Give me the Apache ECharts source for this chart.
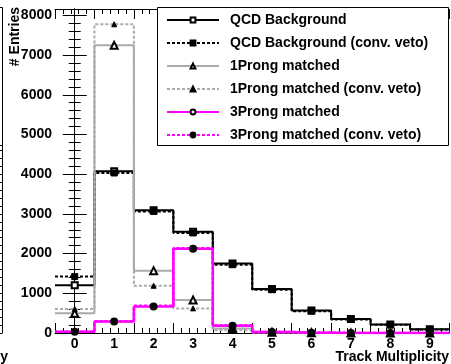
<!DOCTYPE html>
<html>
<head>
<meta charset="utf-8">
<script src="https://cdn.jsdelivr.net/npm/echarts@6/dist/echarts.min.js"></script>
<style>html,body{margin:0;padding:0;background:#fff;}#c{width:451px;height:364px;}</style>
</head>
<body>
<div id="c"></div>
<script>
const xLabels = ['0','1','2','3','4','5','6','7','8','9'];
const qcd      = [1200, 4075, 3090, 2550, 1750, 1110, 565, 355, 215, 95];
const qcdVeto  = [1420, 4030, 3060, 2520, 1720, 1090, 550, 340, 205, 90];
const p1       = [495, 7245, 1570, 830, 115, 20, 5, 2, 1, 0];
const p1Veto   = [605, 7775, 1190, 620, 70, 12, 3, 1, 0, 0];
const p3       = [30, 290, 670, 2125, 185, 25, 8, 3, 1, 0];
const p3Veto   = [30, 295, 685, 2135, 195, 28, 8, 3, 1, 0];
const seriesNames = ['QCD Background','QCD Background (conv. veto)','1Prong matched','1Prong matched (conv. veto)','3Prong matched','3Prong matched (conv. veto)'];
const yMax = 8160;

function stepData(vals){
  const d = [];
  vals.forEach((v,i)=>{
    d.push({value:[i-0.5, v], symbol:'none'});
    d.push({value:[i, v]});
    d.push({value:[i+0.5, v], symbol:'none'});
  });
  return d;
}
const FONT = 'Liberation Sans, Arial, Helvetica, sans-serif';
function mk(name, vals, color, dashed, symbol, size, width){
  return {
    name: name, type:'line', xAxisIndex:0, yAxisIndex:0,
    data: stepData(vals), symbol: symbol, symbolSize: size, showSymbol:true,
    lineStyle:{color: color, width: width, type: dashed ? [3,2] : 'solid'},
    itemStyle:{color:'#000', borderColor:'#000', borderWidth:1},
    emphasis:{disabled:true}, animation:false
  };
}
const chart = echarts.init(document.getElementById('c'), null, {renderer:'canvas'});
const tickX = {show:true, inside:true, length:10, lineStyle:{color:'#000', width:1}};
const minorX = {show:true, splitNumber:5, length:5, lineStyle:{color:'#000', width:1}};
const tickY = {show:true, inside:true, length:12, lineStyle:{color:'#000', width:1}};
const minorY = {show:true, splitNumber:5, length:6, lineStyle:{color:'#000', width:1}};
const lineAx = {show:true, lineStyle:{color:'#000', width:1}};
chart.setOption({
  animation:false,
  backgroundColor:'#fff',
  grid:[
    {left:55, right:1.5, top:9, bottom:31, containLabel:false},
    {left:-393, width:395, top:9, bottom:31, containLabel:false}
  ],
  xAxis:[
    {type:'value', gridIndex:0, min:-0.5, max:9.5, interval:1, position:'bottom',
     axisLine:lineAx, axisTick:tickX, minorTick:minorX, axisLabel:{show:false}, splitLine:{show:false}},
    {type:'category', gridIndex:0, data:xLabels, boundaryGap:true, position:'bottom',
     axisLine:{show:false}, axisTick:{show:false},
     axisLabel:{show:true, margin:4, color:'#000', fontFamily:FONT, fontWeight:'bold', fontSize:14}},
    {type:'value', gridIndex:0, min:-0.5, max:9.5, interval:1, position:'top',
     axisLine:lineAx, axisTick:tickX, minorTick:minorX, axisLabel:{show:false}, splitLine:{show:false}},
    {type:'value', gridIndex:1, min:0, max:1, show:false}
  ],
  yAxis:[
    {type:'value', gridIndex:0, min:0, max:yMax, interval:1000, position:'left',
     axisLine:lineAx, axisTick:tickY, minorTick:minorY, splitLine:{show:false},
     axisLabel:{show:true, margin:3, showMaxLabel:false, formatter:(v)=>String(v), color:'#000', fontFamily:FONT, fontWeight:'bold', fontSize:14}},
    {type:'value', gridIndex:0, min:0, max:yMax, interval:1000, position:'right',
     axisLine:lineAx, axisTick:tickY, minorTick:minorY, splitLine:{show:false}, axisLabel:{show:false}},
    {type:'value', gridIndex:1, min:0, max:yMax, interval:1000, position:'right',
     axisLine:lineAx, axisTick:tickY, minorTick:minorY, splitLine:{show:false}, axisLabel:{show:false}}
  ],
  legend:{
    show:true, orient:'vertical', left:166, top:13, padding:0,
    itemWidth:52, itemHeight:6, itemGap:9, selectedMode:false, z:20,
    data: seriesNames,
    textStyle:{color:'#000', fontFamily:FONT, fontWeight:'bold', fontSize:14, padding:[0,0,0,6]}
  },
  graphic:[
    {type:'rect', z:10, shape:{x:157.5, y:7.5, width:291, height:138}, style:{fill:'#fff', stroke:'#000', lineWidth:1}},
    {type:'rect', z:10, shape:{x:-300, y:7.5, width:302.5, height:138}, style:{fill:'#fff', stroke:'#000', lineWidth:1}},
    {type:'text', z:10, x:15, y:7, rotation:Math.PI/2,
     style:{text:'# Entries', fill:'#000', font:'bold 14px '+FONT, textAlign:'right', textVerticalAlign:'middle'}},
    {type:'text', z:10, x:449, y:357,
     style:{text:'Track Multiplicity', fill:'#000', font:'bold 14px '+FONT, textAlign:'right', textVerticalAlign:'middle'}},
    {type:'text', z:10, x:8, y:357,
     style:{text:'y', fill:'#000', font:'bold 14px '+FONT, textAlign:'right', textVerticalAlign:'middle'}}
  ],
  series:[
    mk(seriesNames[0], qcd, '#000', false, 'emptyRect', 6, 2),
    mk(seriesNames[1], qcdVeto, '#000', true, 'rect', 6, 2),
    mk(seriesNames[2], p1, '#aaaaaa', false, 'emptyTriangle', 7, 2),
    mk(seriesNames[3], p1Veto, '#aaaaaa', true, 'triangle', 5, 2),
    mk(seriesNames[4], p3, '#ff00ff', false, 'emptyCircle', 6, 2.5),
    mk(seriesNames[5], p3Veto, '#ff00ff', true, 'circle', 5, 2.5)
  ]
});
</script>
</body>
</html>
